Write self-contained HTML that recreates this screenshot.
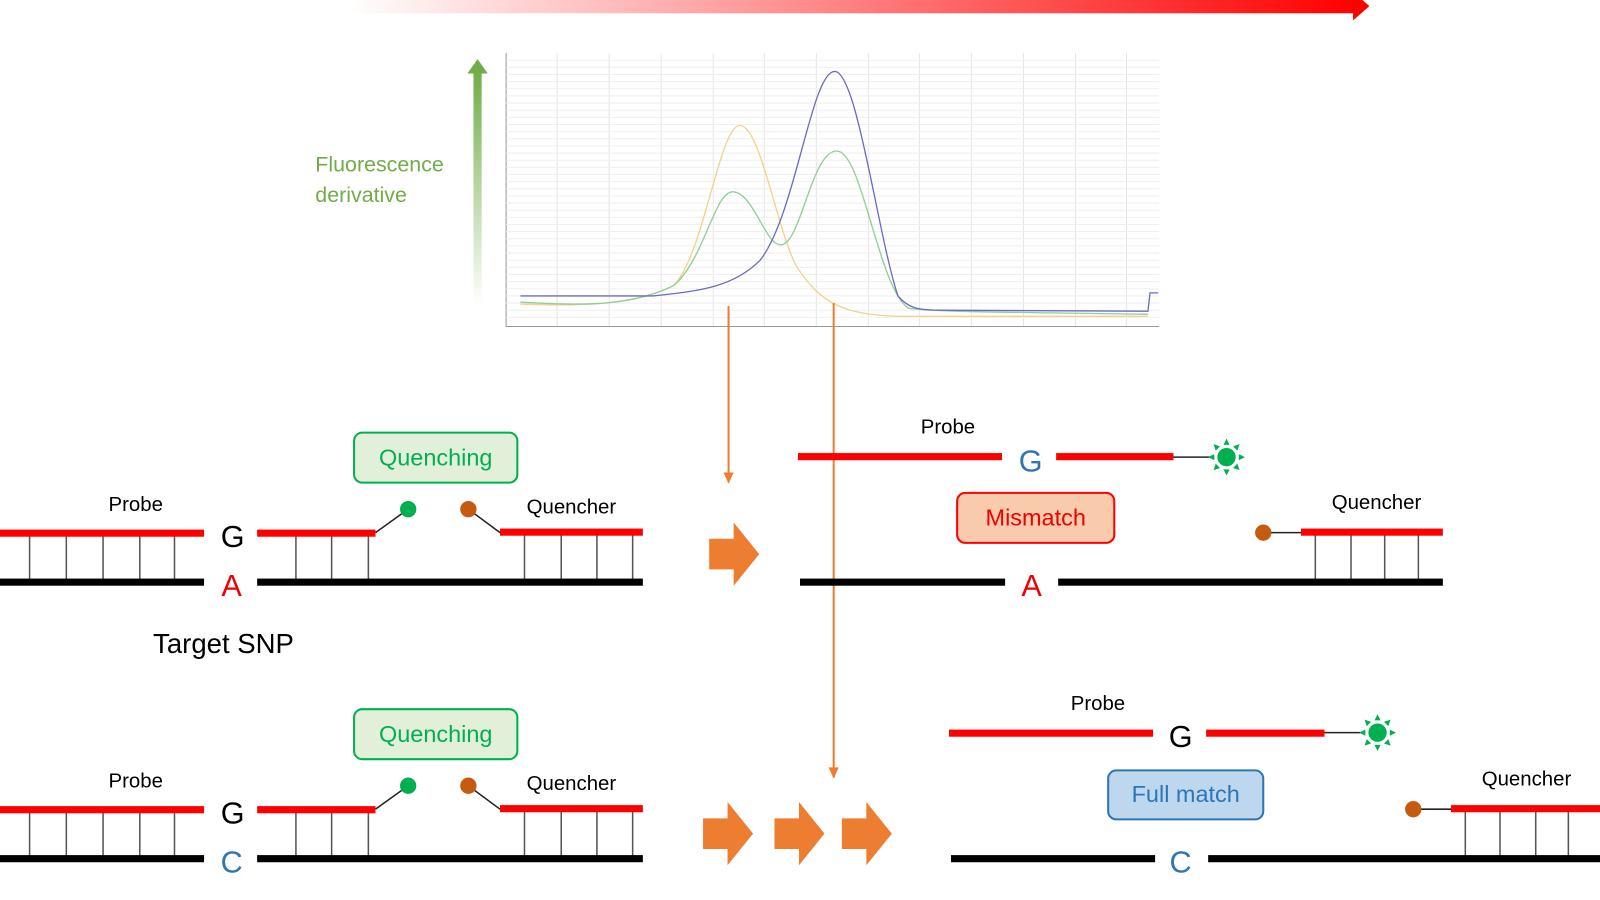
<!DOCTYPE html>
<html><head><meta charset="utf-8"><style>html,body{margin:0;padding:0;background:#fff}svg{display:block}text{font-family:"Liberation Sans",sans-serif}</style></head><body>
<svg width="1600" height="900" viewBox="0 0 1568 882" xmlns="http://www.w3.org/2000/svg">
<defs>
<linearGradient id="rg" x1="0" x2="1"><stop offset="0" stop-color="#fff"/><stop offset="1" stop-color="#f00"/></linearGradient>
<linearGradient id="gg" x1="0" y1="1" x2="0" y2="0"><stop offset="0" stop-color="#70ad47" stop-opacity="0"/><stop offset="1" stop-color="#70ad47"/></linearGradient>
<g id="sun"><circle r="9" fill="#00b050"/><g fill="#00b050"><path d="M-3,-12 L3,-12 L0,-18Z"/><path d="M-3,12 L3,12 L0,18Z"/><path d="M12,-3 L12,3 L18,0Z"/><path d="M-12,-3 L-12,3 L-18,0Z"/><path d="M-3,-12 L3,-12 L0,-18Z" transform="rotate(45)"/><path d="M-3,-12 L3,-12 L0,-18Z" transform="rotate(135)"/><path d="M-3,-12 L3,-12 L0,-18Z" transform="rotate(225)"/><path d="M-3,-12 L3,-12 L0,-18Z" transform="rotate(315)"/></g></g>
<path id="blk" d="M0,-15 L24,-15 L24,-31 L49,0 L24,31 L24,15 L0,15 Z" fill="#ed7d31"/>
</defs>
<rect x="340" y="0" width="990" height="13" fill="url(#rg)"/>
<path d="M1326,-8 L1342,6 L1326,20 Z" fill="#f00"/>
<g stroke="#e6e6e6" stroke-width="1">
<line x1="546" y1="52" x2="546" y2="320"/><line x1="597" y1="52" x2="597" y2="320"/><line x1="648" y1="52" x2="648" y2="320"/><line x1="699" y1="52" x2="699" y2="320"/><line x1="749" y1="52" x2="749" y2="320"/><line x1="800" y1="52" x2="800" y2="320"/><line x1="851" y1="52" x2="851" y2="320"/><line x1="901" y1="52" x2="901" y2="320"/><line x1="952" y1="52" x2="952" y2="320"/><line x1="1003" y1="52" x2="1003" y2="320"/><line x1="1054" y1="52" x2="1054" y2="320"/><line x1="1104" y1="52" x2="1104" y2="320"/>
</g>
<path d="M496,52 V320 H1136" fill="none" stroke="#999" stroke-width="1"/>
<g stroke="#efefef">
<line x1="496" y1="59" x2="1136" y2="59"/><line x1="496" y1="66" x2="1136" y2="66"/><line x1="496" y1="73" x2="1136" y2="73"/><line x1="496" y1="80" x2="1136" y2="80"/><line x1="496" y1="87" x2="1136" y2="87"/><line x1="496" y1="94" x2="1136" y2="94"/><line x1="496" y1="101" x2="1136" y2="101"/><line x1="496" y1="108" x2="1136" y2="108"/><line x1="496" y1="115" x2="1136" y2="115"/><line x1="496" y1="122" x2="1136" y2="122"/><line x1="496" y1="129" x2="1136" y2="129"/><line x1="496" y1="136" x2="1136" y2="136"/><line x1="496" y1="143" x2="1136" y2="143"/><line x1="496" y1="150" x2="1136" y2="150"/><line x1="496" y1="157" x2="1136" y2="157"/><line x1="496" y1="164" x2="1136" y2="164"/><line x1="496" y1="171" x2="1136" y2="171"/><line x1="496" y1="178" x2="1136" y2="178"/><line x1="496" y1="185" x2="1136" y2="185"/><line x1="496" y1="192" x2="1136" y2="192"/><line x1="496" y1="199" x2="1136" y2="199"/><line x1="496" y1="206" x2="1136" y2="206"/><line x1="496" y1="213" x2="1136" y2="213"/><line x1="496" y1="220" x2="1136" y2="220"/><line x1="496" y1="227" x2="1136" y2="227"/><line x1="496" y1="234" x2="1136" y2="234"/><line x1="496" y1="241" x2="1136" y2="241"/><line x1="496" y1="248" x2="1136" y2="248"/><line x1="496" y1="255" x2="1136" y2="255"/><line x1="496" y1="262" x2="1136" y2="262"/><line x1="496" y1="269" x2="1136" y2="269"/><line x1="496" y1="276" x2="1136" y2="276"/><line x1="496" y1="283" x2="1136" y2="283"/><line x1="496" y1="290" x2="1136" y2="290"/><line x1="496" y1="297" x2="1136" y2="297"/><line x1="496" y1="304" x2="1136" y2="304"/><line x1="496" y1="311" x2="1136" y2="311"/>
</g>
<path d="M510,298 C560,300 620,300 660,280 C690,250 705,123 725,123 C745,123 760,220 780,260 C805,300 830,308 880,310 L1125,310" fill="none" stroke="#f2d28c" stroke-width="1.3"/>
<path d="M510,296 C570,300 620,300 660,280 C690,255 700,188 718,188 C738,188 750,240 765,240 C785,240 795,148 820,148 C845,148 860,280 890,302 C920,306 1000,306 1125,308" fill="none" stroke="#8fcf96" stroke-width="1.3"/>
<path d="M510,290 L640,290 C690,285 720,280 745,255 C780,210 795,70 818,70 C840,70 860,230 880,290 C890,302 900,304 920,304 L1125,305 L1127,287 L1135,287" fill="none" stroke="#6b6bc7" stroke-width="1.3"/>
<rect x="464" y="70" width="8" height="230" fill="url(#gg)"/>
<path d="M458,72 L468,58 L478,72 Z" fill="#70ad47"/>
<text x="309" y="168" font-size="21" fill="#70ad47">Fluorescence</text>
<text x="309" y="198" font-size="21" fill="#70ad47">derivative</text>
<line x1="714" y1="300" x2="714" y2="473" stroke="#ed7d31" stroke-width="2"/>
<path d="M709,463 L719,463 L714,474 Z" fill="#ed7d31"/>
<line x1="817" y1="297" x2="817" y2="762" stroke="#ed7d31" stroke-width="2"/>
<path d="M812,752 L822,752 L817,763 Z" fill="#ed7d31"/>
<g id="row1">
<g stroke="#555" stroke-width="1.5"><line x1="29" y1="522" x2="29" y2="570"/><line x1="65" y1="522" x2="65" y2="570"/><line x1="101" y1="522" x2="101" y2="570"/><line x1="137" y1="522" x2="137" y2="570"/><line x1="171" y1="522" x2="171" y2="570"/><line x1="290" y1="522" x2="290" y2="570"/><line x1="325" y1="522" x2="325" y2="570"/><line x1="361" y1="522" x2="361" y2="570"/><line x1="514" y1="522" x2="514" y2="570"/><line x1="550" y1="522" x2="550" y2="570"/><line x1="585" y1="522" x2="585" y2="570"/><line x1="620" y1="522" x2="620" y2="570"/></g>
<g fill="#f00"><rect x="0" y="519" width="200" height="7"/><rect x="252" y="519" width="116" height="7"/><rect x="490" y="518" width="140" height="7"/></g>
<g fill="#000"><rect x="0" y="567" width="200" height="7"/><rect x="252" y="567" width="378" height="7"/></g>
<line x1="368" y1="522" x2="400" y2="499" stroke="#222" stroke-width="1.5"/>
<line x1="459" y1="499" x2="490" y2="522" stroke="#222" stroke-width="1.5"/>
<circle cx="400" cy="499" r="8" fill="#00b050"/><circle cx="459" cy="499" r="8" fill="#c55a11"/>
<text x="228" y="536" font-size="30" text-anchor="middle">G</text>
<text x="133" y="501" font-size="20" text-anchor="middle">Probe</text>
<text x="560" y="503" font-size="20" text-anchor="middle">Quencher</text>
<rect x="347" y="424" width="160" height="49" rx="8" fill="#e2f0d9" stroke="#00b050" stroke-width="2"/>
<text x="427" y="456" font-size="23" fill="#00b050" text-anchor="middle">Quenching</text>
</g>
<text x="227" y="584" font-size="30" fill="#e00" text-anchor="middle">A</text>
<use href="#row1" transform="translate(0,271)"/>
<text x="227" y="855" font-size="30" fill="#2e75b6" text-anchor="middle">C</text>
<text x="150" y="640" font-size="27">Target SNP</text>
<use href="#blk" transform="translate(695,543)"/>
<use href="#blk" transform="translate(689,817)"/>
<use href="#blk" transform="translate(759,817)"/>
<use href="#blk" transform="translate(825,817)"/>
<g fill="#f00"><rect x="782" y="444" width="200" height="7"/><rect x="1035" y="444" width="115" height="7"/></g>
<line x1="1150" y1="448" x2="1190" y2="448" stroke="#222" stroke-width="1.5"/>
<use href="#sun" transform="translate(1202,448)"/>
<text x="929" y="425" font-size="20" text-anchor="middle">Probe</text>
<text x="1010" y="462" font-size="30" fill="#2e75b6" text-anchor="middle">G</text>
<rect x="938" y="483" width="154" height="49" rx="8" fill="#f8cbad" stroke="#f00" stroke-width="2"/>
<text x="1015" y="515" font-size="23" fill="#e00" text-anchor="middle">Mismatch</text>
<g stroke="#555" stroke-width="1.5"><line x1="1289" y1="521" x2="1289" y2="570"/><line x1="1324" y1="521" x2="1324" y2="570"/><line x1="1357" y1="521" x2="1357" y2="570"/><line x1="1390" y1="521" x2="1390" y2="570"/></g>
<g fill="#000"><rect x="784" y="567" width="201" height="7"/><rect x="1037" y="567" width="377" height="7"/></g>
<rect x="1275" y="518" width="139" height="7" fill="#f00"/>
<line x1="1238" y1="522" x2="1275" y2="522" stroke="#222" stroke-width="1.5"/>
<circle cx="1238" cy="522" r="8" fill="#c55a11"/>
<text x="1349" y="499" font-size="20" text-anchor="middle">Quencher</text>
<text x="1011" y="584" font-size="30" fill="#e00" text-anchor="middle">A</text>
<g fill="#f00"><rect x="930" y="715" width="200" height="7"/><rect x="1182" y="715" width="116" height="7"/></g>
<line x1="1298" y1="718" x2="1338" y2="718" stroke="#222" stroke-width="1.5"/>
<use href="#sun" transform="translate(1350,718)"/>
<text x="1076" y="696" font-size="20" text-anchor="middle">Probe</text>
<text x="1157" y="732" font-size="30" text-anchor="middle">G</text>
<rect x="1086" y="755" width="152" height="48" rx="8" fill="#bdd7ee" stroke="#2e75b6" stroke-width="2"/>
<text x="1162" y="786" font-size="23" fill="#2e75b6" text-anchor="middle">Full match</text>
<g stroke="#555" stroke-width="1.5"><line x1="1436" y1="792" x2="1436" y2="841"/><line x1="1470" y1="792" x2="1470" y2="841"/><line x1="1505" y1="792" x2="1505" y2="841"/><line x1="1537" y1="792" x2="1537" y2="841"/></g>
<g fill="#000"><rect x="932" y="838" width="200" height="7"/><rect x="1184" y="838" width="384" height="7"/></g>
<rect x="1422" y="789" width="146" height="7" fill="#f00"/>
<line x1="1385" y1="793" x2="1422" y2="793" stroke="#222" stroke-width="1.5"/>
<circle cx="1385" cy="793" r="8" fill="#c55a11"/>
<text x="1496" y="770" font-size="20" text-anchor="middle">Quencher</text>
<text x="1157" y="855" font-size="30" fill="#2e75b6" text-anchor="middle">C</text>
</svg>
</body></html>
